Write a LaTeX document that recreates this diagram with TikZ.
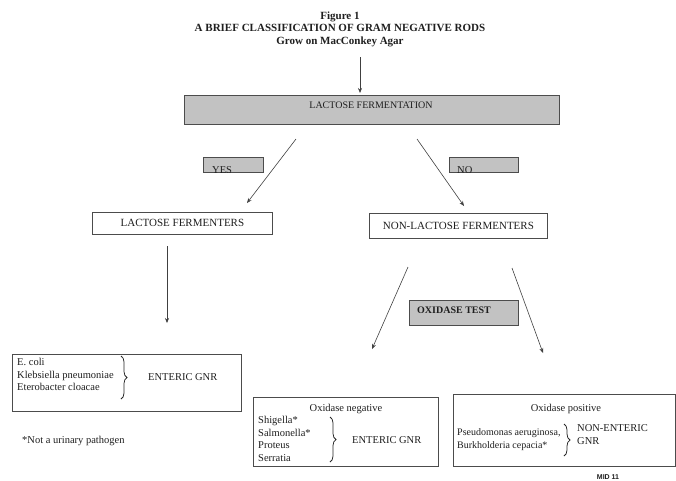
\documentclass[tikz,border=0pt]{standalone}
\usepackage{fontspec}
\setmainfont{Liberation Serif}
\newfontfamily\tagfont{Liberation Sans}
\usetikzlibrary{arrows.meta,decorations.pathreplacing}
\begin{document}
\begin{tikzpicture}[x=1pt,y=-1pt,
  every node/.style={inner sep=0pt, text=black!88},
  graybox/.style={draw=black!70, line width=0.9pt, fill=black!24, anchor=north west},
  whitebox/.style={draw=black!70, line width=0.8pt, fill=white, anchor=north west},
  txt/.style={font=\fontsize{10.5}{12.5}\selectfont, anchor=base west},
  ctxt/.style={font=\fontsize{10.5}{12.5}\selectfont, anchor=base},
  ttl/.style={font=\bfseries\fontsize{11}{12.5}\selectfont, anchor=base},
  arr/.style={draw=black!75, line width=0.6pt, -{Stealth[length=5pt,width=4pt]}},
  brc/.style={draw=black!85, line width=0.75pt, decorate, decoration={brace, amplitude=6pt}},
]
\useasboundingbox (0,0) rectangle (676,480);

% heading
\node[ttl] (t1) at (340,19) {Figure 1};
\node[ttl] (t2) at (340,31.5) {A BRIEF CLASSIFICATION OF GRAM NEGATIVE RODS};
\node[ttl] (t3) at (340,44) {Grow on MacConkey Agar};

% lactose fermentation
\node[graybox, minimum width=375pt, minimum height=29pt] (lfbox) at (184,95) {};
\node[ctxt, font=\fontsize{10}{12}\selectfont] (lft) at (371,108.5) {LACTOSE FERMENTATION};

% yes / no tags (text runs past the lower edge of the box)
\node[graybox, minimum width=60pt, minimum height=15pt] (yesbox) at (203,157) {};
\node[graybox, minimum width=69pt, minimum height=15pt] (nobox) at (449,157) {};
\begin{scope}
  \clip ([shift={(0.5pt,-0.5pt)}]yesbox.north west) rectangle ([shift={(-0.5pt,0.5pt)}]yesbox.south east);
  \node[txt] (yest) at (212,173) {YES};
\end{scope}
\begin{scope}
  \clip ([shift={(0.5pt,-0.5pt)}]nobox.north west) rectangle ([shift={(-0.5pt,0.5pt)}]nobox.south east);
  \node[txt] (not) at (457,173) {NO};
\end{scope}

% fermenter groups
\node[whitebox, minimum width=180pt, minimum height=22pt, font=\fontsize{11}{13}\selectfont] (lfer) at (92,212) {LACTOSE FERMENTERS};
\node[whitebox, minimum width=178pt, minimum height=25pt, font=\fontsize{11}{13}\selectfont] (nlfer) at (369,213) {NON-LACTOSE FERMENTERS};

% oxidase test
\node[graybox, minimum width=109pt, minimum height=25pt] (oxbox) at (409,300) {};
\node[txt, font=\bfseries\fontsize{10}{12}\selectfont] (oxt) at (417,313.5) {OXIDASE TEST};

% lactose fermenters result
\node[whitebox, minimum width=229pt, minimum height=57pt] (ecbox) at (12,354) {};
\node[txt] (ec1) at (17,365.5) {E. coli};
\node[txt] (ec2) at (17,378) {Klebsiella pneumoniae};
\node[txt] (ec3) at (17,390.5) {Eterobacter cloacae};
\coordinate (ecb1) at (121,356);
\coordinate (ecb2) at (121,399);
\draw[brc] (ecb1) -- (ecb2);
\node[txt] (ecg) at (148,380.5) {ENTERIC GNR};

\node[txt] (note) at (22,443.5) {*Not a urinary pathogen};

% oxidase negative
\node[whitebox, minimum width=185pt, minimum height=69pt] (onbox) at (253,397) {};
\node[ctxt] (onh) at (346,411.5) {Oxidase negative};
\node[txt] (on1) at (258,423.5) {Shigella*};
\node[txt] (on2) at (258,436) {Salmonella*};
\node[txt] (on3) at (258,448.5) {Proteus};
\node[txt] (on4) at (258,461) {Serratia};
\coordinate (onb1) at (330,417);
\coordinate (onb2) at (330,462);
\draw[brc] (onb1) -- (onb2);
\node[txt] (ong) at (352,443.5) {ENTERIC GNR};

% oxidase positive
\node[whitebox, minimum width=222pt, minimum height=72pt] (opbox) at (453,394) {};
\node[ctxt] (oph) at (566,411.5) {Oxidase positive};
\node[txt, font=\fontsize{10}{12}\selectfont] (op1) at (457,435.5) {Pseudomonas aeruginosa,};
\node[txt, font=\fontsize{10}{12}\selectfont] (op2) at (457,448.5) {Burkholderia cepacia*};
\coordinate (opb1) at (564,424);
\coordinate (opb2) at (564,456);
\draw[brc] (opb1) -- (opb2);
\node[txt] (opg1) at (577,431.5) {NON-ENTERIC};
\node[txt] (opg2) at (577,444.5) {GNR};

\node[anchor=base, font=\tagfont\bfseries\fontsize{7}{8}\selectfont] (mid) at (608,479.5) {MID 11};

% connectors
\coordinate (s0) at (360,57);   \coordinate (e0) at (360,93);
\coordinate (s1) at (296,139);  \coordinate (e1) at (247,203);
\coordinate (s2) at (417,139);  \coordinate (e2) at (464,206);
\coordinate (s3) at (167,246);  \coordinate (e3) at (167,323);
\coordinate (s4) at (408,267);  \coordinate (e4) at (372,349);
\coordinate (s5) at (512,268);  \coordinate (e5) at (543,353);
\draw[arr] (s0) -- (e0);
\draw[arr] (s1) -- (e1);
\draw[arr] (s2) -- (e2);
\draw[arr] (s3) -- (e3);
\draw[arr] (s4) -- (e4);
\draw[arr] (s5) -- (e5);
\end{tikzpicture}
\end{document}
